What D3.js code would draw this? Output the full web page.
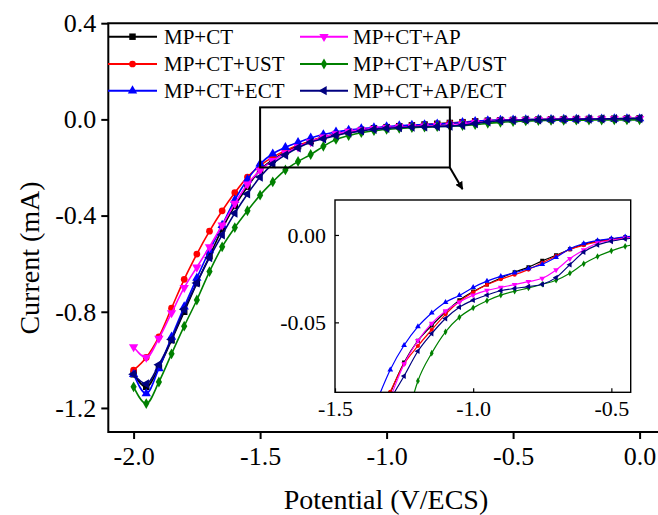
<!DOCTYPE html>
<html><head><meta charset="utf-8">
<script src="https://cdn.jsdelivr.net/npm/d3@7"></script>
<style>
html,body{margin:0;padding:0;background:#fff;}
svg{display:block;}
text{font-family:"Liberation Serif","Times New Roman",serif;fill:#000;}
</style></head>
<body>
<svg id="chart" width="658" height="515"></svg>
<script>
// ---------- data ----------
const potentials = [-2.00,-1.95,-1.90,-1.85,-1.80,-1.75,-1.70,-1.65,-1.60,-1.55,-1.50,-1.45,-1.40,-1.35,-1.30,-1.25,-1.20,-1.15,-1.10,-1.05,-1.00,-0.95,-0.90,-0.85,-0.80,-0.75,-0.70,-0.65,-0.60,-0.55,-0.50,-0.45,-0.40,-0.35,-0.30,-0.25,-0.20,-0.15,-0.10,-0.05,0.00];

const mpct = [-1.060,-1.112,-1.032,-0.918,-0.800,-0.681,-0.569,-0.455,-0.360,-0.280,-0.210,-0.168,-0.135,-0.111,-0.0905,-0.0730,-0.0605,-0.0518,-0.0441,-0.0373,-0.0324,-0.0283,-0.0246,-0.0213,-0.0184,-0.0148,-0.0116,-0.0082,-0.0054,-0.0035,-0.0023,-0.0013,-0.0008,0.0000,0.0008,0.0012,0.0018,0.0022,0.0028,0.0034,0.0040];
const mpctUst = [-1.043,-0.990,-0.904,-0.785,-0.665,-0.560,-0.465,-0.380,-0.305,-0.240,-0.192,-0.157,-0.130,-0.108,-0.0897,-0.0738,-0.0635,-0.0542,-0.0454,-0.0381,-0.0328,-0.0285,-0.0253,-0.0227,-0.0198,-0.0159,-0.0121,-0.0083,-0.0058,-0.0040,-0.0027,-0.0017,-0.0010,-0.0004,0.0002,0.0008,0.0013,0.0018,0.0023,0.0028,0.0032];
const mpctEct = [-1.060,-1.140,-1.036,-0.905,-0.779,-0.660,-0.545,-0.440,-0.335,-0.250,-0.185,-0.143,-0.116,-0.0956,-0.0771,-0.0631,-0.0524,-0.0446,-0.0385,-0.0346,-0.0300,-0.0264,-0.0237,-0.0216,-0.0192,-0.0168,-0.0128,-0.0079,-0.0049,-0.0032,-0.0021,-0.0011,-0.0005,0.0001,0.0007,0.0012,0.0017,0.0022,0.0027,0.0032,0.0036];
const mpctAp = [-0.946,-0.990,-0.911,-0.805,-0.700,-0.615,-0.530,-0.440,-0.350,-0.270,-0.212,-0.172,-0.140,-0.115,-0.0933,-0.0738,-0.0605,-0.0506,-0.0435,-0.0384,-0.0344,-0.0317,-0.0300,-0.0284,-0.0267,-0.0248,-0.0200,-0.0135,-0.0086,-0.0046,-0.0031,-0.0019,-0.0011,-0.0005,0.0001,0.0007,0.0012,0.0017,0.0022,0.0027,0.0032];
const mpctApUst = [-1.112,-1.182,-1.092,-0.975,-0.860,-0.751,-0.633,-0.530,-0.450,-0.380,-0.315,-0.260,-0.210,-0.175,-0.146,-0.112,-0.0835,-0.0676,-0.0554,-0.0471,-0.0417,-0.0376,-0.0344,-0.0322,-0.0303,-0.0282,-0.0259,-0.0219,-0.0165,-0.0123,-0.0091,-0.0065,-0.0050,-0.0042,-0.0036,-0.0032,-0.0029,-0.0026,-0.0024,-0.0022,-0.0020];
const mpctApEct = [-1.060,-1.100,-1.020,-0.915,-0.790,-0.680,-0.575,-0.480,-0.390,-0.310,-0.240,-0.185,-0.148,-0.118,-0.0950,-0.0807,-0.0665,-0.0564,-0.0478,-0.0413,-0.0373,-0.0344,-0.0319,-0.0306,-0.0295,-0.0282,-0.0244,-0.0170,-0.0098,-0.0057,-0.0036,-0.0023,-0.0014,-0.0007,0.0000,0.0007,0.0013,0.0019,0.0025,0.0031,0.0037];

const seriesNames = ["MP+CT","MP+CT+UST","MP+CT+ECT","MP+CT+AP","MP+CT+AP/UST","MP+CT+AP/ECT"];
const seriesValues = [mpct, mpctUst, mpctEct, mpctAp, mpctApUst, mpctApEct];
const seriesColors = ["#000000","#ff0000","#0000ff","#ff00ff","#008000","#000080"];
const seriesSymbols = ["square","circle","triUp","triDown","diamond","triLeft"];

const xTicks = [-2.0,-1.5,-1.0,-0.5,0.0];
const yTicks = [0.4,0.0,-0.4,-0.8,-1.2];
const insetXTicks = [-1.5,-1.0,-0.5];
const insetYTicks = [0.00,-0.05];
const zoomBox = {x0:-1.5, x1:-0.75, y0:0.05, y1:-0.2};
const arrowEnd = {x:-0.70, y:-0.29};

// ---------- layout ----------
const svg = d3.select("#chart");
const W = 658, H = 515;
svg.append("rect").attr("width",W).attr("height",H).attr("fill","#fff");

const x = d3.scaleLinear().domain([-2.1, 0.1]).range([108.3, 664.9]);
const y = d3.scaleLinear().domain([-1.3, 0.4]).range([432, 23.2]);

const ix = d3.scaleLinear().domain([-1.5, -0.43]).range([335, 630.7]);
const iy = d3.scaleLinear().domain([-0.09, 0.02]).range([392.3, 200]);

const fmtDash = f => (v => f(v).replace("\u2212","-"));

function symbolPath(kind, size){
  const s = Math.sqrt(size);
  if(kind==="square") return d3.symbol(d3.symbolSquare, size)();
  if(kind==="circle") return d3.symbol(d3.symbolCircle, size*0.85)();
  if(kind==="diamond") return d3.symbol(d3.symbolDiamond, size*0.8)();
  return d3.symbol(d3.symbolTriangle, size*0.9)();
}
function symbolRot(kind){
  if(kind==="triDown") return 180;
  if(kind==="triLeft") return -90;
  return 0;
}

// ---------- main curves ----------
const line = d3.line().curve(d3.curveMonotoneX);
const mainG = svg.append("g");
seriesValues.forEach((vals,i)=>{
  const pts = potentials.map((p,k)=>[x(p), y(vals[k])]);
  mainG.append("path").attr("d", line(pts)).attr("fill","none")
    .attr("stroke", seriesColors[i]).attr("stroke-width",1.6);
  mainG.selectAll(null).data(pts).enter().append("path")
    .attr("d", symbolPath(seriesSymbols[i], 42))
    .attr("transform", d=>`translate(${d[0]},${d[1]}) rotate(${symbolRot(seriesSymbols[i])})`)
    .attr("fill", seriesColors[i]);
});

// ---------- main axes ----------
const xAxis = d3.axisBottom(x).tickValues(xTicks).tickSize(7).tickPadding(8).tickSizeOuter(0).tickFormat(fmtDash(d3.format(".1f")));
const gx = svg.append("g").attr("transform",`translate(0,${y(-1.3)})`).call(xAxis);
const yAxis = d3.axisLeft(y).tickValues(yTicks).tickSize(7).tickPadding(5).tickSizeOuter(0).tickFormat(fmtDash(d3.format(".1f")));
const gy = svg.append("g").attr("transform",`translate(${x(-2.1)},0)`).call(yAxis);
[gx,gy].forEach(g=>{
  g.select(".domain").remove();
  g.selectAll(".tick line").attr("stroke","#000").attr("stroke-width",2);
  g.selectAll(".tick text").style("font-family","Liberation Serif").style("font-size","26px").attr("fill","#000");
});
// frame
svg.append("path")
  .attr("d",`M${x(0.1)},${y(0.4)}H${x(-2.1)}V${y(-1.3)}H${x(0.1)}`)
  .attr("fill","none").attr("stroke","#000").attr("stroke-width",2);

// titles
svg.append("text").attr("x",386).attr("y",509).attr("text-anchor","middle")
  .style("font-size","28px").text("Potential (V/ECS)");
svg.append("text").attr("transform","translate(39,258) rotate(-90)").attr("text-anchor","middle")
  .style("font-size","28px").text("Current (mA)");

// ---------- legend ----------
const legCols = [[108,157,164],[300,348,353]];
const legRows = [36.7, 64, 90.7];
seriesNames.forEach((name,i)=>{
  const col = legCols[Math.floor(i/3)], ry = legRows[i%3];
  const g = svg.append("g");
  g.append("line").attr("x1",col[0]).attr("x2",col[1]).attr("y1",ry).attr("y2",ry)
    .attr("stroke",seriesColors[i]).attr("stroke-width",2);
  g.append("path").attr("d",symbolPath(seriesSymbols[i],42))
    .attr("transform",`translate(${(col[0]+col[1])/2},${ry}) rotate(${symbolRot(seriesSymbols[i])})`)
    .attr("fill",seriesColors[i]);
  g.append("text").attr("x",col[2]).attr("y",ry+7).style("font-size","21px").text(name);
});

// ---------- zoom box + arrow ----------
svg.append("rect").attr("x",x(zoomBox.x0)).attr("y",y(zoomBox.y0))
  .attr("width",x(zoomBox.x1)-x(zoomBox.x0)).attr("height",y(zoomBox.y1)-y(zoomBox.y0))
  .attr("fill","none").attr("stroke","#000").attr("stroke-width",2);
svg.append("defs").append("marker").attr("id","ah").attr("viewBox","0 0 10 10")
  .attr("refX",9).attr("refY",5).attr("markerWidth",4).attr("markerHeight",4).attr("orient","auto")
  .append("path").attr("d","M0,0L10,5L0,10Z").attr("fill","#000");
svg.append("line").attr("x1",x(zoomBox.x1)).attr("y1",y(zoomBox.y1))
  .attr("x2",x(arrowEnd.x)).attr("y2",y(arrowEnd.y))
  .attr("stroke","#000").attr("stroke-width",2).attr("marker-end","url(#ah)");

// ---------- inset ----------
const inset = svg.append("g");
inset.append("rect").attr("x",ix(-1.5)).attr("y",iy(0.02)).attr("width",ix(-0.43)-ix(-1.5)).attr("height",iy(-0.09)-iy(0.02))
  .attr("fill","#fff");
svg.append("clipPath").attr("id","ic").append("rect")
  .attr("x",ix(-1.5)).attr("y",iy(0.02)).attr("width",ix(-0.43)-ix(-1.5)).attr("height",iy(-0.09)-iy(0.02));
const insetCurves = inset.append("g").attr("clip-path","url(#ic)");
seriesValues.forEach((vals,i)=>{
  const pts = potentials.map((p,k)=>[ix(p), iy(vals[k])]);
  insetCurves.append("path").attr("d", line(pts)).attr("fill","none")
    .attr("stroke", seriesColors[i]).attr("stroke-width",1.2);
  insetCurves.selectAll(null).data(pts).enter().append("path")
    .attr("d", symbolPath(seriesSymbols[i], 16))
    .attr("transform", d=>`translate(${d[0]},${d[1]}) rotate(${symbolRot(seriesSymbols[i])})`)
    .attr("fill", seriesColors[i]);
});
const ixAxis = d3.axisBottom(ix).tickValues(insetXTicks).tickSize(-4).tickPadding(8).tickSizeOuter(0).tickFormat(fmtDash(d3.format(".1f")));
const gix = inset.append("g").attr("transform",`translate(0,${iy(-0.09)})`).call(ixAxis);
const iyAxis = d3.axisLeft(iy).tickValues(insetYTicks).tickSize(-4).tickPadding(9).tickSizeOuter(0).tickFormat(fmtDash(d3.format(".2f")));
const giy = inset.append("g").attr("transform",`translate(${ix(-1.5)},0)`).call(iyAxis);
[gix,giy].forEach(g=>{
  g.select(".domain").remove();
  g.selectAll(".tick line").attr("stroke","#000").attr("stroke-width",1.2);
  g.selectAll(".tick text").style("font-family","Liberation Serif").style("font-size","22px").attr("fill","#000");
});
inset.append("rect").attr("x",ix(-1.5)).attr("y",iy(0.02)).attr("width",ix(-0.43)-ix(-1.5)).attr("height",iy(-0.09)-iy(0.02))
  .attr("fill","none").attr("stroke","#000").attr("stroke-width",1.4);
</script>
</body></html>
